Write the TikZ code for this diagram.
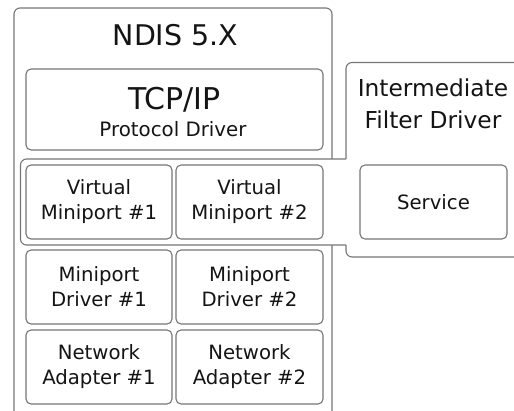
\documentclass[tikz,border=0pt]{standalone}
\usepackage{fontspec}
\setmainfont{DejaVu Sans}
\definecolor{edgegray}{RGB}{118,118,118}
\definecolor{inkgray}{RGB}{20,20,20}
\tikzset{
  edge/.style={draw=edgegray, line width=1.1pt},
  panel/.style={edge, rounded corners=6pt, fill=white, inner sep=0pt},
  cell/.style={edge, rounded corners=5pt, fill=white, inner sep=0pt,
    minimum height=74pt, align=center, text=inkgray,
    font=\fontsize{19.7}{25}\selectfont},
  caption/.style={inner sep=0pt, anchor=base, text=inkgray},
}
\begin{document}
\begin{tikzpicture}[x=1pt, y=-1pt]
\useasboundingbox (0,0) rectangle (514,410);

% outer NDIS frame and the intermediate driver frame
\node[panel, minimum width=318pt, minimum height=422pt] (ndis) at (173,219) {};
\node[panel, minimum width=194pt, minimum height=194.5pt] (imd) at (443,159.75) {};

% join the virtual miniport band with the intermediate driver frame
\fill[white] (328,159) rectangle (357,245);
\draw[edge, rounded corners=6pt] (346,159) -- (20.5,159) -- (20.5,245) -- (346,245);

% titles
\node[caption, font=\fontsize{28.5}{34}\selectfont] (ndistitle) at (175.5,45.7) {NDIS 5.X};
\node[caption, font=\fontsize{23.3}{30}\selectfont] (imdline1) at (433,96.7) {Intermediate};
\node[caption, font=\fontsize{23.3}{30}\selectfont] (imdline2) at (433,128.3) {Filter Driver};

% protocol driver
\node[panel, rounded corners=5pt, minimum width=297pt, minimum height=81pt] (tcp) at (174.5,109.5) {};
\node[caption, font=\fontsize{30}{36}\selectfont] (tcpname) at (174.5,109) {TCP/IP};
\node[caption, font=\fontsize{19.8}{25}\selectfont] (tcpkind) at (173,136.7) {Protocol Driver};

% miniport stack
\node[cell, minimum width=146pt] (vm1) at (99,202) {Virtual\\Miniport \#1};
\node[cell, minimum width=147pt] (vm2) at (249.5,202) {Virtual\\Miniport \#2};
\node[cell, minimum width=146pt] (md1) at (99,287) {Miniport\\Driver \#1};
\node[cell, minimum width=147pt] (md2) at (249.5,287) {Miniport\\Driver \#2};
\node[cell, minimum width=146pt] (na1) at (99,367) {Network\\Adapter \#1};
\node[cell, minimum width=147pt] (na2) at (249.5,367) {Network\\Adapter \#2};

% service inside the intermediate driver
\node[cell, minimum width=147pt] (svc) at (433.5,202) {Service};
\end{tikzpicture}
\end{document}
